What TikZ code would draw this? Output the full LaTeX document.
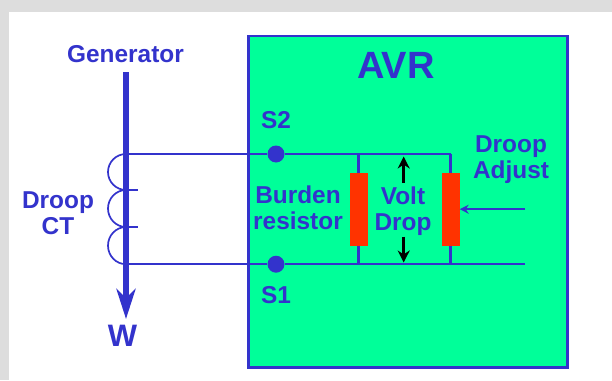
\documentclass[tikz,border=0pt]{standalone}
\usepackage{fontspec}
\setmainfont{Liberation Sans}
\usetikzlibrary{arrows.meta}
\definecolor{wirecol}{RGB}{51,51,204}
\definecolor{avrcol}{RGB}{0,255,153}
\definecolor{rescol}{RGB}{255,51,0}
\definecolor{framecol}{RGB}{221,221,221}
\tikzset{
  lbl/.style={text=wirecol,font=\bfseries\fontsize{24.4}{26}\selectfont,align=center,inner sep=0pt},
  wire/.style={draw=wirecol,line width=2.3pt},
  coil/.style={draw=wirecol,line width=1.7pt},
  res/.style={fill=rescol,draw=none,minimum width=18pt,minimum height=73pt,inner sep=0pt},
  term/.style={circle,fill=wirecol,minimum size=17pt,inner sep=0pt},
  volt/.style={line width=2.8pt,-{Stealth[length=12pt,width=12pt]}}
}
\begin{document}
\begin{tikzpicture}[x=1pt,y=-1pt]
\useasboundingbox (0,0) rectangle (612,380);
\fill[framecol] (0,0) rectangle (612,380);
\fill[white] (9,12) rectangle (612,380);
\draw[fill=avrcol,draw=wirecol,line width=2.2pt] (248.5,36) rectangle (567.5,367.5);
% Titel und Generator
\node[lbl,font=\bfseries\fontsize{38}{40}\selectfont] (avr) at (396,65) {AVR};
\node[lbl] (gen) at (125.5,54) {Generator};
\coordinate (gtop) at (126,72);
\coordinate (wend) at (126,319);
\draw[draw=wirecol,line width=6pt,-{Stealth[length=30pt,width=19pt,inset=9pt]}] (gtop) -- (wend);
\node[lbl,font=\bfseries\fontsize{31}{33}\selectfont] (w) at (122.5,336) {W};
\node[lbl] (ct) at (58,213) {Droop\\CT};
% Spule
\coordinate (c0) at (126,154);
\coordinate (c1) at (126,190);
\coordinate (c2) at (126,227);
\coordinate (c3) at (126,264.2);
\draw[coil] (c0) arc[start angle=90,end angle=270,x radius=18pt,y radius=18pt];
\draw[coil] (c1) arc[start angle=90,end angle=270,x radius=18pt,y radius=18.5pt];
\draw[coil] (c2) arc[start angle=90,end angle=270,x radius=18pt,y radius=18.6pt];
\coordinate (t1) at (138,190);
\coordinate (t2) at (138,227);
\draw[coil] (c1) -- (t1);
\draw[coil] (c2) -- (t2);
% Anschluesse
\node[term] (s2) at (276,154) {};
\node[term] (s1) at (276,264.2) {};
\node[lbl] (s2l) at (276,120) {S2};
\node[lbl] (s1l) at (276,295) {S1};
\coordinate (topb) at (358.5,154);
\coordinate (bota) at (358.5,264.2);
\coordinate (topa) at (450.5,154);
\coordinate (botb) at (450.5,264.2);
\coordinate (endb) at (525,264.2);
\draw[wire] (c0) -- (s2) -- (topa);
\draw[wire] (c3) -- (s1) -- (endb);
% Widerstaende
\node[res] (rb) at (358.5,209.2) {};
\node[res] (ra) at (450.5,209.2) {};
\draw[wire] (topb) -- (rb);
\draw[wire] (rb) -- (bota);
\draw[wire] (topa) -- (ra);
\draw[wire] (ra) -- (botb);
\node[lbl] (burden) at (298,208) {Burden\\resistor};
\node[lbl] (voltl) at (403,211) {Volt\\Drop};
\node[lbl] (droop) at (511,160) {Droop\\Adjust};
\coordinate (adj) at (525,209.2);
\draw[wire,-{Stealth[length=9pt,width=9pt]}] (adj) -- (ra);
% Spannungspfeile
\coordinate (vt) at (403.7,156.5);
\coordinate (vtb) at (403.7,183);
\coordinate (vb) at (403.7,262.5);
\coordinate (vbb) at (403.7,236.5);
\draw[volt] (vtb) -- (vt);
\draw[volt] (vbb) -- (vb);
\end{tikzpicture}
\end{document}
